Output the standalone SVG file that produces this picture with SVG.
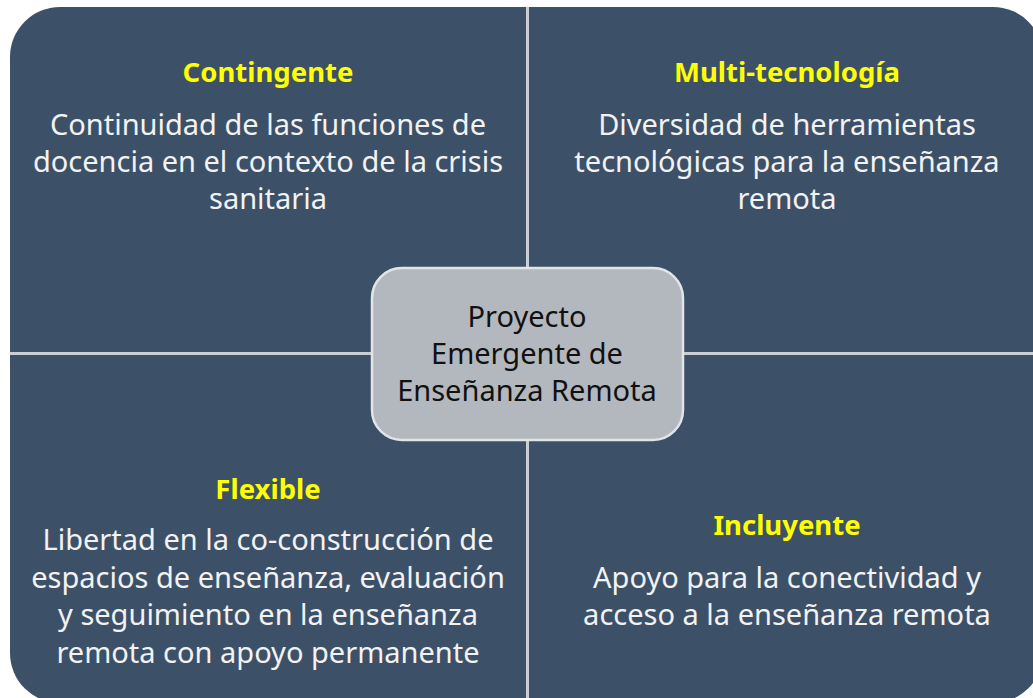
<svg xmlns="http://www.w3.org/2000/svg" width="1033" height="698" viewBox="0 0 1033 698">
<style>
.q{fill:#3c5168;}
.div{stroke:#c9ced4;stroke-width:3;fill:none;}
.t{font-family:"Noto Sans","Open Sans","Liberation Sans",sans-serif;font-weight:bold;font-size:27.5px;fill:#ffff00;text-anchor:middle;}
.b{font-family:"Noto Sans","Open Sans","Liberation Sans",sans-serif;font-size:29px;fill:#f2f2f2;text-anchor:middle;}
.c{font-family:"Noto Sans","Open Sans","Liberation Sans",sans-serif;font-size:29px;fill:#111111;text-anchor:middle;}
.box{fill:#b3b8bf;stroke:#e2e5e8;stroke-width:2.5;}
</style>
<rect width="1033" height="698" fill="#ffffff"/>
<g id="q-contingente">
<path class="q" d="M10,57 A50,50 0 0 1 60,7 L527,7 L527,353 L10,353 Z"/>
<text class="t" x="268" y="82">Contingente</text>
<text class="b" x="268" y="135">Continuidad de las funciones de</text>
<text class="b" x="268" y="172">docencia en el contexto de la crisis</text>
<text class="b" x="268" y="209">sanitaria</text>
</g>
<g id="q-multitecnologia">
<path class="q" d="M527,7 L993,7 A50,50 0 0 1 1043,57 L1043,353 L527,353 Z"/>
<text class="t" x="787" y="82">Multi-tecnología</text>
<text class="b" x="787" y="135">Diversidad de herramientas</text>
<text class="b" x="787" y="172">tecnológicas para la enseñanza</text>
<text class="b" x="787" y="209">remota</text>
</g>
<g id="q-flexible">
<path class="q" d="M10,353 L527,353 L527,703 L60,703 A50,50 0 0 1 10,653 Z"/>
<text class="t" x="268" y="499">Flexible</text>
<text class="b" x="268" y="550">Libertad en la co-construcción de</text>
<text class="b" x="268" y="588">espacios de enseñanza, evaluación</text>
<text class="b" x="268" y="625">y seguimiento en la enseñanza</text>
<text class="b" x="268" y="663">remota con apoyo permanente</text>
</g>
<g id="q-incluyente">
<path class="q" d="M527,353 L1043,353 L1043,653 A50,50 0 0 1 993,703 L527,703 Z"/>
<text class="t" x="787" y="535">Incluyente</text>
<text class="b" x="787" y="588">Apoyo para la conectividad y</text>
<text class="b" x="787" y="625">acceso a la enseñanza remota</text>
</g>
<g id="dividers">
<line class="div" x1="527.5" y1="7" x2="527.5" y2="703"/>
<line class="div" x1="10" y1="353.5" x2="1043" y2="353.5"/>
</g>
<g id="center">
<rect class="box" x="372" y="268" width="311" height="172" rx="30"/>
<text class="c" x="527" y="327">Proyecto</text>
<text class="c" x="527" y="364">Emergente de</text>
<text class="c" x="527" y="401">Enseñanza Remota</text>
</g>
</svg>
